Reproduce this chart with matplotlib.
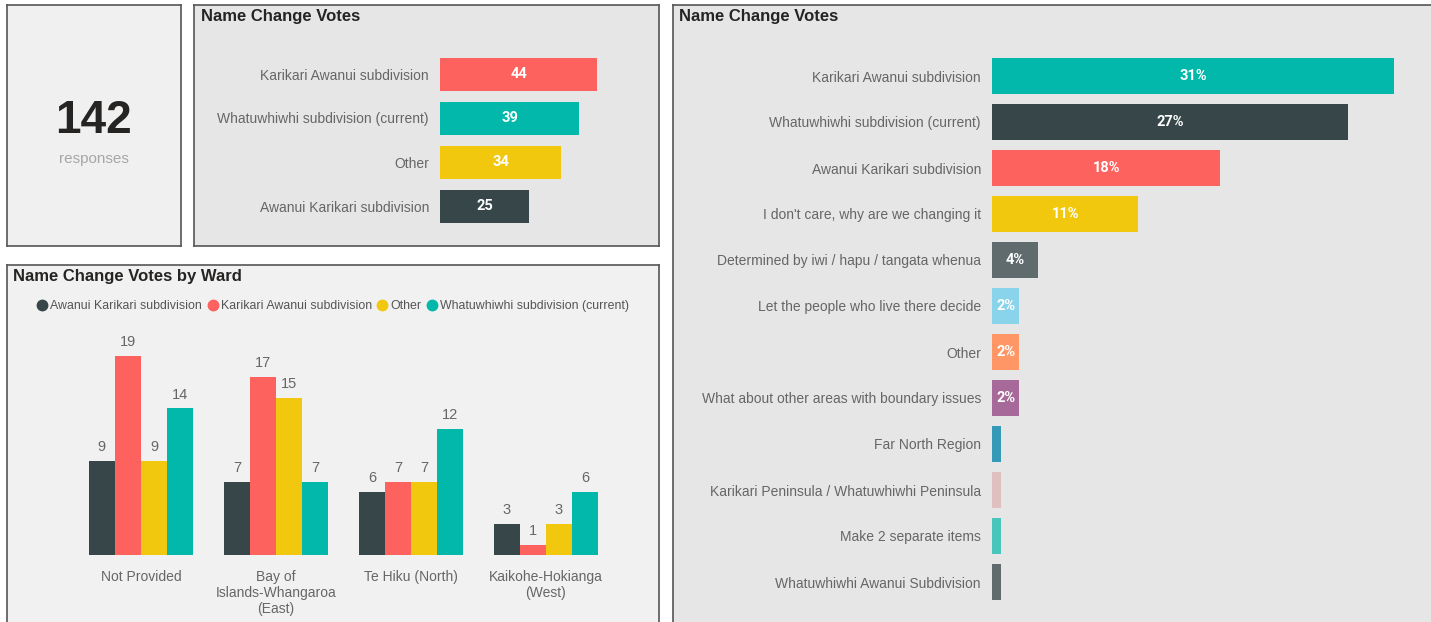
import matplotlib

matplotlib.use("Agg")

import matplotlib.pyplot as plt
import numpy as np
from matplotlib.lines import Line2D

plt.rcParams["font.family"] = ["Liberation Sans", "DejaVu Sans"]

W, H = 1431, 622

# ---- data ----
total_responses = 142

top_options = [
    "Karikari Awanui subdivision",
    "Whatuwhiwhi subdivision (current)",
    "Other",
    "Awanui Karikari subdivision",
]
top_votes = [44, 39, 34, 25]
top_colors = ["#FD625E", "#01B8AA", "#F2C80F", "#374649"]

wards = [
    "Not Provided",
    "Bay of\nIslands-Whangaroa\n(East)",
    "Te Hiku (North)",
    "Kaikohe-Hokianga\n(West)",
]
ward_series = [
    "Awanui Karikari subdivision",
    "Karikari Awanui subdivision",
    "Other",
    "Whatuwhiwhi subdivision (current)",
]
awanui_karikari = [9, 7, 6, 3]
karikari_awanui = [19, 17, 7, 1]
other_ward = [9, 15, 7, 3]
whatuwhiwhi = [14, 7, 12, 6]
ward_colors = ["#374649", "#FD625E", "#F2C80F", "#01B8AA"]

all_options = [
    "Karikari Awanui subdivision",
    "Whatuwhiwhi subdivision (current)",
    "Awanui Karikari subdivision",
    "I don't care, why are we changing it",
    "Determined by iwi / hapu / tangata whenua",
    "Let the people who live there decide",
    "Other",
    "What about other areas with boundary issues",
    "Far North Region",
    "Karikari Peninsula / Whatuwhiwhi Peninsula",
    "Make 2 separate items",
    "Whatuwhiwhi Awanui Subdivision",
]
all_votes = [44, 39, 25, 16, 5, 3, 3, 3, 1, 1, 1, 1]
all_colors = [
    "#01B8AA", "#374649", "#FD625E", "#F2C80F", "#5F6B6D", "#8AD4EB",
    "#FE9666", "#A66999", "#3599B8", "#DFBFBF", "#4AC5BB", "#5F6B6D",
]

LABEL_GREY = "#666666"
TITLE_COLOR = "#252423"
BORDER = "#555555"
VALUE_FONT = ["Roboto", "DejaVu Sans"]


def px_axes(fig, left, top, right, bottom, **kw):
    """Axes placed by pixel box (origin top-left)."""
    return fig.add_axes(
        [left / W, 1 - bottom / H, (right - left) / W, (bottom - top) / H], **kw
    )


def panel(fig, left, top, right, bottom, color):
    ax = px_axes(fig, left, top, right, bottom, facecolor=color, zorder=0)
    ax.set_xticks([])
    ax.set_yticks([])
    for s in ax.spines.values():
        s.set_color(BORDER)
        s.set_linewidth(1.2)
    return ax


def title(fig, x, y, text):
    fig.text(x / W, 1 - y / H, text, fontsize=12, fontweight="bold",
             color=TITLE_COLOR, va="center", ha="left")


def hbar(ax, labels, values, colors, fmt, height, show):
    y = np.arange(len(labels))
    ax.barh(y, values, height=height, color=colors)
    ax.set_yticks(y)
    ax.set_yticklabels(labels, fontsize=10, color=LABEL_GREY)
    ax.tick_params(axis="y", length=0, pad=8)
    ax.set_xticks([])
    ax.set_ylim(len(labels) - 0.5, -0.5)
    for s in ax.spines.values():
        s.set_visible(False)
    ax.patch.set_alpha(0)
    for yi, v in zip(y, values):
        if show(v):
            ax.text(v / 2, yi, fmt(v), ha="center", va="center",
                    color="white", fontsize=10.5, fontweight="bold",
                    family=VALUE_FONT)


fig = plt.figure(figsize=(W / 100, H / 100), dpi=100, facecolor="white")

# ---- panel backgrounds ----
panel(fig, 7, 5, 181, 246, "#f0f0f0")
panel(fig, 194, 5, 659, 246, "#e6e6e7")
panel(fig, 7, 265, 659, 650, "#f1f1f1")
panel(fig, 673, 5, 1450, 650, "#e6e6e7")

# ---- response count card ----
fig.text(94 / W, 1 - 121 / H, str(total_responses), fontsize=33,
         fontweight="bold", color="#252423", ha="center", va="center")
fig.text(94 / W, 1 - 159 / H, "responses", fontsize=11, color="#a6a6a6",
         ha="center", va="center")

# ---- name change votes (top) ----
title(fig, 201, 16, "Name Change Votes")
ax1 = px_axes(fig, 440, 52, 650, 228)
hbar(ax1, top_options, top_votes, top_colors, str, 0.75, lambda v: True)
ax1.set_xlim(0, 58.8)

# ---- votes by ward ----
title(fig, 13, 276, "Name Change Votes by Ward")
ax2 = px_axes(fig, 73.5, 330, 613.5, 555)
ax2.patch.set_alpha(0)
series = [awanui_karikari, karikari_awanui, other_ward, whatuwhiwhi]
x = np.arange(len(wards))
w = 0.193
for i, (vals, col) in enumerate(zip(series, ward_colors)):
    xs = x + (i - 1.5) * w
    ax2.bar(xs, vals, width=w, color=col)
    for xi, v in zip(xs, vals):
        ax2.annotate(str(v), (xi, v), xytext=(0, 5), textcoords="offset points",
                     ha="center", va="bottom", fontsize=10.5, color=LABEL_GREY)
ax2.set_xlim(-0.5, len(wards) - 0.5)
ax2.set_ylim(0, 21.5)
ax2.set_yticks([])
ax2.set_xticks(x)
ax2.set_xticklabels(wards, fontsize=10, color=LABEL_GREY, linespacing=1.15)
ax2.tick_params(axis="x", length=0, pad=11)
for s in ax2.spines.values():
    s.set_visible(False)

handles = [
    Line2D([], [], marker="o", linestyle="", markersize=7.5,
           markerfacecolor=c, markeredgecolor=c)
    for c in ward_colors
]
fig.legend(handles, ward_series, loc="center left",
           bbox_to_anchor=(38 / W, 1 - 306 / H), ncol=4, frameon=False,
           fontsize=8.9, handlelength=0.7, handletextpad=0.3,
           columnspacing=0.5, borderaxespad=0, borderpad=0,
           labelcolor="#555555")

# ---- name change votes (all answers) ----
title(fig, 679, 16, "Name Change Votes")
ax3 = px_axes(fig, 992, 53, 1420, 605)
hbar(ax3, all_options, all_votes, all_colors,
     lambda v: f"{round(v / total_responses * 100)}%", 0.78, lambda v: v >= 2)
ax3.set_xlim(0, 46.85)

fig.savefig("out.png", dpi=100, facecolor="white")
